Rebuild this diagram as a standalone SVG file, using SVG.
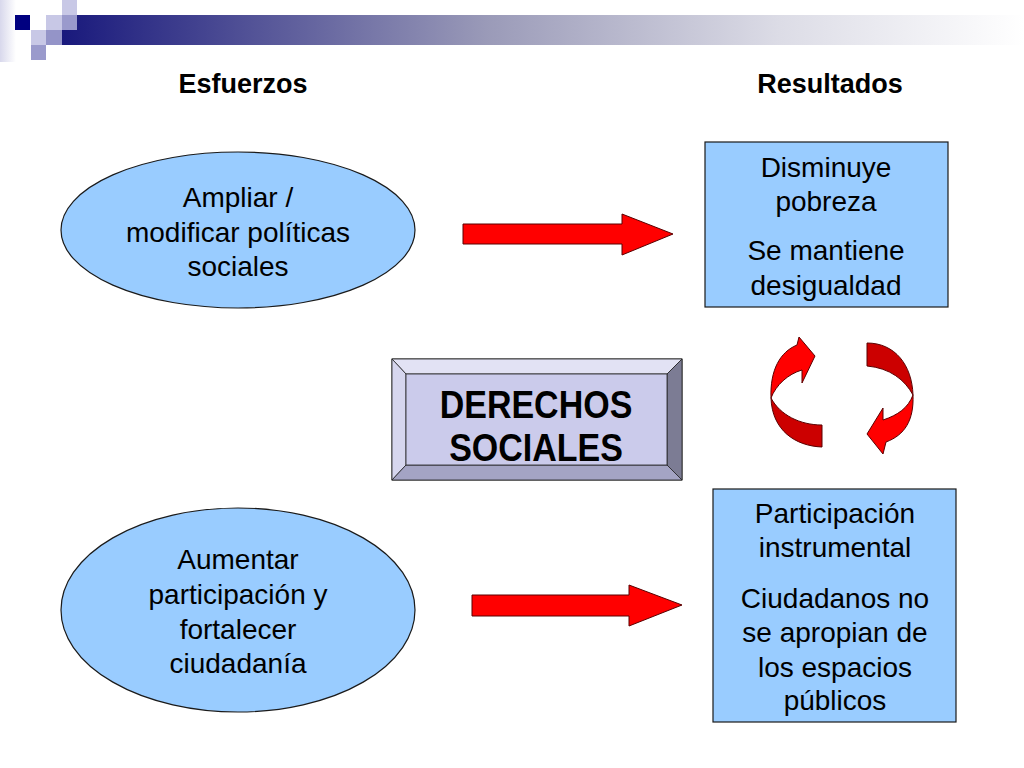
<svg xmlns="http://www.w3.org/2000/svg" width="1024" height="768" viewBox="0 0 1024 768">
<defs>
<linearGradient id="bar" x1="0" y1="0" x2="1" y2="0">
<stop offset="0" stop-color="#14147a"/>
<stop offset="0.45" stop-color="#9a9ab8"/>
<stop offset="0.75" stop-color="#dcdce6"/>
<stop offset="1" stop-color="#ffffff"/>
</linearGradient>
<linearGradient id="edge" x1="0" y1="0" x2="1" y2="0">
<stop offset="0" stop-color="#d8d8ec"/>
<stop offset="1" stop-color="#ffffff"/>
</linearGradient>
<style>
.t{font-family:"Liberation Sans",Arial,sans-serif;font-size:28px;fill:#000;text-anchor:middle}
.h{font-family:"Liberation Sans",Arial,sans-serif;font-size:27px;font-weight:bold;fill:#000;text-anchor:middle}
.big{font-family:"Liberation Sans",Arial,sans-serif;font-size:34px;font-weight:bold;fill:#000;text-anchor:middle}
.node{fill:#99ccff;stroke:#1a1a1a;stroke-width:1.2}
.arr{fill:#ff0000;stroke:#5a0000;stroke-width:1}
.arrd{fill:#cc0000;stroke:#5a0000;stroke-width:1}
.bv{stroke:#222;stroke-width:0.8}
</style>
</defs>
<rect width="1024" height="768" fill="#ffffff"/>
<g id="header">
<rect x="0" y="0" width="16" height="62" fill="url(#edge)"/>
<rect x="46" y="15" width="978" height="30" fill="url(#bar)"/>
<rect x="15" y="15" width="15" height="15" fill="#000080"/>
<rect x="62" y="0" width="15" height="15" fill="#c8c8e6"/>
<rect x="46" y="15" width="16" height="15" fill="#c8c8e6"/>
<rect x="62" y="15" width="15" height="15" fill="#9a9acc"/>
<rect x="31" y="30" width="15" height="15" fill="#c8c8e6"/>
<rect x="46" y="30" width="16" height="15" fill="#9494c8"/>
<rect x="31" y="45" width="15" height="15" fill="#9a9acc"/>
</g>
<text class="h" x="243" y="93">Esfuerzos</text>
<text class="h" x="830" y="93">Resultados</text>
<g id="ellipse1">
<ellipse class="node" cx="238" cy="230" rx="177" ry="78"/>
<text class="t" x="238" y="207">Ampliar /</text>
<text class="t" x="238" y="242">modificar políticas</text>
<text class="t" x="238" y="276">sociales</text>
</g>
<g id="ellipse2">
<ellipse class="node" cx="238" cy="610" rx="177" ry="102"/>
<text class="t" x="238" y="569">Aumentar</text>
<text class="t" x="238" y="604">participación y</text>
<text class="t" x="238" y="639">fortalecer</text>
<text class="t" x="238" y="673">ciudadanía</text>
</g>
<g id="box1">
<rect class="node" x="705" y="142" width="243" height="165"/>
<text class="t" x="826" y="177">Disminuye</text>
<text class="t" x="826" y="211">pobreza</text>
<text class="t" x="826" y="260">Se mantiene</text>
<text class="t" x="826" y="295">desigualdad</text>
</g>
<g id="box2">
<rect class="node" x="713" y="489" width="243" height="233"/>
<text class="t" x="835" y="523">Participación</text>
<text class="t" x="835" y="557">instrumental</text>
<text class="t" x="835" y="608">Ciudadanos no</text>
<text class="t" x="835" y="642">se apropian de</text>
<text class="t" x="835" y="677">los espacios</text>
<text class="t" x="835" y="710">públicos</text>
</g>
<g id="derechos">
<rect x="392" y="359" width="290" height="121" fill="#cbcbeb" stroke="#222" stroke-width="1"/>
<polygon class="bv" points="392,359 682,359 667,374 406,374" fill="#e2e2f4"/>
<polygon class="bv" points="392,359 406,374 406,465 392,480" fill="#d6d6ee"/>
<polygon class="bv" points="682,359 682,480 667,465 667,374" fill="#7c7c94"/>
<polygon class="bv" points="392,480 406,465 667,465 682,480" fill="#a4a4c4"/>
<rect x="406" y="374" width="261" height="91" fill="#cbcbeb" stroke="#222" stroke-width="0.8"/>
<text class="big" transform="translate(536 418) scale(1 1.15)" x="0" y="0">DERECHOS</text>
<text class="big" transform="translate(536 461) scale(1 1.15)" x="0" y="0">SOCIALES</text>
</g>
<g id="connectors">
<polygon class="arr" points="463,224 622,224 622,214 673,234 622,255 622,244 463,244"/>
<polygon class="arr" points="472,595 629,595 629,585 682,605 629,626 629,616 472,616"/>
<path class="arrd" d="M771,398 C772,430 795,446 822,447 L822,425 C800,425 780,415 771,398 Z"/>
<path class="arr" d="M771,398 C770,370 780,352 797,345 L799,337 L815,356 L802,383 L802,370 C788,374 776,385 771,398 Z"/>
<path class="arrd" d="M867,343 C895,343 912,365 913,395 C905,380 890,368 867,366 Z"/>
<path class="arr" d="M913,395 C914,420 905,435 886,442 L883,454 L867,434 L883,408 L883,420 C898,415 908,408 913,395 Z"/>
</g>
</svg>
